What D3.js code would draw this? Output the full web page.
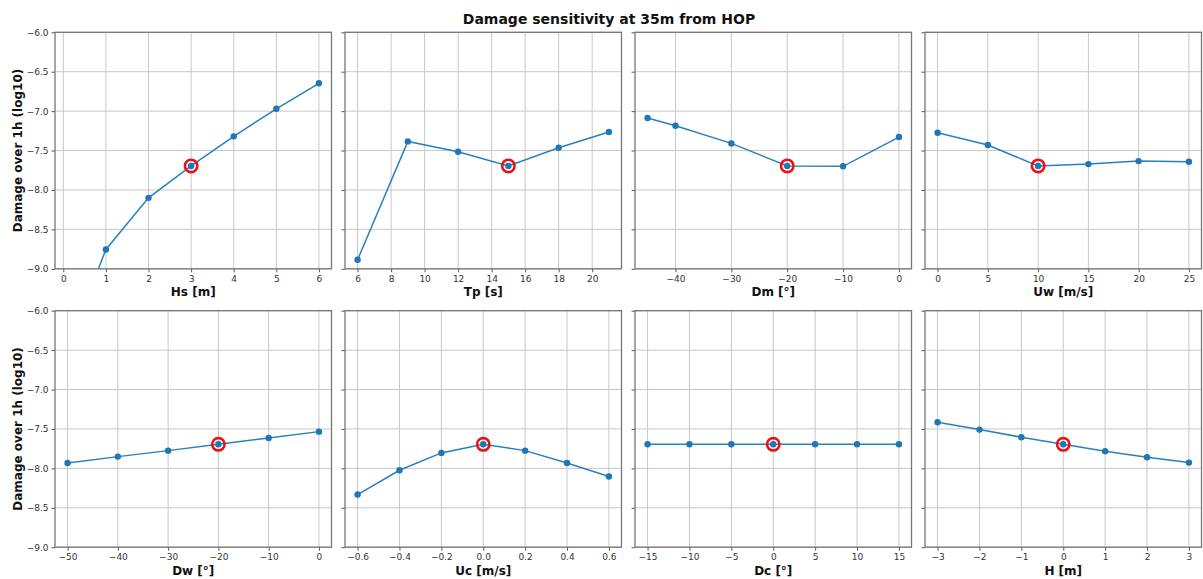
<!DOCTYPE html>
<html><head><meta charset="utf-8">
<script src="https://cdn.jsdelivr.net/npm/d3@7"></script>
<style>
html,body{margin:0;padding:0;background:#fff;}
svg{display:block;font-family:"DejaVu Sans",sans-serif;}
</style></head>
<body>
<svg id="c" width="1203" height="579"></svg>
<script>
// ---- data ----
const title = "Damage sensitivity at 35m from HOP";
const yLabel = "Damage over 1h (log10)";
const yTicks = [-9.0, -8.5, -8.0, -7.5, -7.0, -6.5, -6.0];
const baseValue = -7.695;

const hsX = [0.1, 1, 2, 3, 4, 5, 6];
const hsY = [-10.0, -8.755, -8.10, -7.695, -7.32, -6.97, -6.647];
const hsTicks = [0, 1, 2, 3, 4, 5, 6];

const tpX = [6, 9, 12, 15, 18, 21];
const tpY = [-8.886, -7.384, -7.515, -7.695, -7.464, -7.265];
const tpTicks = [6, 8, 10, 12, 14, 16, 18, 20];

const dmX = [-45, -40, -30, -20, -10, 0];
const dmY = [-7.088, -7.185, -7.409, -7.695, -7.70, -7.329];
const dmTicks = [-40, -30, -20, -10, 0];

const uwX = [0, 5, 10, 15, 20, 25];
const uwY = [-7.274, -7.43, -7.695, -7.672, -7.634, -7.642];
const uwTicks = [0, 5, 10, 15, 20, 25];

const dwX = [-50, -40, -30, -20, -10, 0];
const dwY = [-7.931, -7.851, -7.775, -7.695, -7.614, -7.534];
const dwTicks = [-50, -40, -30, -20, -10, 0];

const ucX = [-0.6, -0.4, -0.2, 0.0, 0.2, 0.4, 0.6];
const ucY = [-8.332, -8.024, -7.804, -7.695, -7.775, -7.931, -8.104];
const ucTicks = [-0.6, -0.4, -0.2, 0.0, 0.2, 0.4, 0.6];

const dcX = [-15, -10, -5, 0, 5, 10, 15];
const dcY = [-7.695, -7.695, -7.695, -7.695, -7.695, -7.695, -7.695];
const dcTicks = [-15, -10, -5, 0, 5, 10, 15];

const hX = [-3, -2, -1, 0, 1, 2, 3];
const hY = [-7.415, -7.508, -7.605, -7.695, -7.783, -7.859, -7.927];
const hTicks = [-3, -2, -1, 0, 1, 2, 3];

const panels = [
  {label: "Hs [m]",   x: hsX, y: hsY, ticks: hsTicks, base: 3,   fmt: d3.format("d")},
  {label: "Tp [s]",   x: tpX, y: tpY, ticks: tpTicks, base: 15,  fmt: d3.format("d")},
  {label: "Dm [°]",   x: dmX, y: dmY, ticks: dmTicks, base: -20, fmt: d3.format("d")},
  {label: "Uw [m/s]", x: uwX, y: uwY, ticks: uwTicks, base: 10,  fmt: d3.format("d")},
  {label: "Dw [°]",   x: dwX, y: dwY, ticks: dwTicks, base: -20, fmt: d3.format("d")},
  {label: "Uc [m/s]", x: ucX, y: ucY, ticks: ucTicks, base: 0,   fmt: d3.format(".1f")},
  {label: "Dc [°]",   x: dcX, y: dcY, ticks: dcTicks, base: 0,   fmt: d3.format("d")},
  {label: "H [m]",    x: hX,  y: hY,  ticks: hTicks,  base: 0,   fmt: d3.format("d")}
];

// ---- layout ----
const svg = d3.select("#c");
const lefts = [55, 345, 635, 925];
const pw = 276.5;
const tops = [32.3, 310.7];
const ph = 236.5;
const blue = "#1f77b4";
const minus = s => s.replace(/-/g, "\u2212");

svg.append("text").attr("x", 609).attr("y", 24).attr("text-anchor", "middle")
  .attr("font-size", 14).attr("font-weight", "bold").attr("fill", "#111").text(title);

panels.forEach((p, i) => {
  const col = i % 4, row = Math.floor(i / 4);
  const x0 = lefts[col], y0 = tops[row];
  const g = svg.append("g").attr("transform", `translate(${x0},${y0})`);
  const [mn, mx] = d3.extent(p.x);
  const pad = (mx - mn) * 0.05;
  const x = d3.scaleLinear().domain([mn - pad, mx + pad]).range([0, pw]);
  const y = d3.scaleLinear().domain([-9, -6]).range([ph, 0]);

  // grid
  g.append("g").selectAll("line").data(p.ticks).join("line")
    .attr("x1", d => x(d)).attr("x2", d => x(d)).attr("y1", 0).attr("y2", ph)
    .attr("stroke", "#c8c8c8").attr("stroke-width", 1);
  g.append("g").selectAll("line").data(yTicks).join("line")
    .attr("x1", 0).attr("x2", pw).attr("y1", d => y(d)).attr("y2", d => y(d))
    .attr("stroke", "#c8c8c8").attr("stroke-width", 1);

  // clip
  const cid = "clip" + i;
  g.append("clipPath").attr("id", cid).append("rect").attr("width", pw).attr("height", ph);
  const pts = p.x.map((v, k) => [v, p.y[k]]);
  const pg = g.append("g").attr("clip-path", `url(#${cid})`);
  pg.append("path").datum(pts)
    .attr("d", d3.line().x(d => x(d[0])).y(d => y(d[1])))
    .attr("fill", "none").attr("stroke", "#2a80bd").attr("stroke-width", 1.5);
  pg.selectAll("circle.pt").data(pts).join("circle").attr("class", "pt")
    .attr("cx", d => x(d[0])).attr("cy", d => y(d[1])).attr("r", 3.2).attr("fill", blue);
  pg.append("circle").attr("cx", x(p.base)).attr("cy", y(baseValue)).attr("r", 6.2)
    .attr("fill", "none").attr("stroke", "#ee1111").attr("stroke-width", 2.6);

  // axes
  const xa = g.append("g").attr("transform", `translate(0,${ph})`)
    .call(d3.axisBottom(x).tickValues(p.ticks).tickSize(3.5).tickSizeOuter(0).tickPadding(3)
      .tickFormat(d => minus(p.fmt(d))));
  const ya = g.append("g")
    .call(d3.axisLeft(y).tickValues(yTicks).tickSize(3.5).tickSizeOuter(0).tickPadding(3)
      .tickFormat(d => col === 0 ? minus(d3.format(".1f")(d)) : ""));
  [xa, ya].forEach(a => {
    a.select(".domain").remove();
    a.selectAll("line").attr("stroke", "#555");
    a.selectAll("text").attr("font-size", 9).attr("fill", "#333")
      .attr("font-family", "DejaVu Sans, sans-serif");
  });

  // frame
  g.append("rect").attr("width", pw).attr("height", ph).attr("fill", "none")
    .attr("stroke", "#777").attr("stroke-width", 1.3);

  // x label
  g.append("text").attr("x", pw / 2).attr("y", ph + 27.5).attr("text-anchor", "middle")
    .attr("font-size", 12).attr("font-weight", "bold").attr("fill", "#111").text(p.label);

  if (col === 0) {
    g.append("text").attr("transform", `translate(${-33},${ph / 2}) rotate(-90)`)
      .attr("text-anchor", "middle").attr("font-size", 12).attr("font-weight", "bold")
      .attr("fill", "#111").text(yLabel);
  }
});
</script>
</body></html>
